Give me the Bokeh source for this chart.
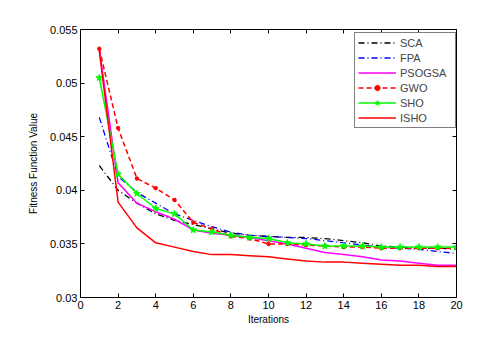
from bokeh.plotting import figure
from bokeh.models import Range1d, LinearAxis, FixedTicker, CustomJSTickFormatter, Legend
from bokeh.embed import file_html
from bokeh.resources import INLINE

iterations = list(range(1, 21))
sca = [0.0423, 0.0400, 0.0388, 0.0378, 0.0372, 0.0368, 0.0364, 0.0360, 0.0358, 0.0357,
       0.0356, 0.0356, 0.0355, 0.0353, 0.0351, 0.0348, 0.0347, 0.0346, 0.0346, 0.0345]
fpa = [0.0468, 0.0413, 0.0398, 0.0388, 0.0378, 0.0372, 0.0366, 0.0361, 0.0358, 0.0357,
       0.0356, 0.0355, 0.0353, 0.0351, 0.0349, 0.0347, 0.0346, 0.0345, 0.0343, 0.0341]
psogsa = [0.0532, 0.0407, 0.0388, 0.0380, 0.0373, 0.0363, 0.0360, 0.0358, 0.0356, 0.0353,
          0.0350, 0.0346, 0.0342, 0.0340, 0.0338, 0.0335, 0.0334, 0.0332, 0.0330, 0.0330]
gwo = [0.0532, 0.0458, 0.0411, 0.0402, 0.0391, 0.0370, 0.0364, 0.0357, 0.0355, 0.0350,
       0.0350, 0.0349, 0.0348, 0.0347, 0.0347, 0.0346, 0.0346, 0.0346, 0.0346, 0.0346]
sho = [0.0505, 0.0415, 0.0397, 0.0383, 0.0378, 0.0363, 0.0361, 0.0358, 0.0356, 0.0355,
       0.0351, 0.0350, 0.0348, 0.0348, 0.0348, 0.0347, 0.0347, 0.0347, 0.0347, 0.0347]
isho = [0.0530, 0.0389, 0.0365, 0.0351, 0.0347, 0.0343, 0.0340, 0.0340, 0.0339, 0.0338,
        0.0336, 0.0334, 0.0333, 0.0333, 0.0332, 0.0331, 0.0330, 0.0330, 0.0329, 0.0329]

x_ticks = list(range(0, 21, 2))
y_ticks = [0.03, 0.035, 0.04, 0.045, 0.05, 0.055]
y_tick_labels = ["0.03", "0.035", "0.04", "0.045", "0.05", "0.055"]

FONT = "Liberation Sans"

p = figure(output_backend="svg", toolbar_location=None,
           frame_width=376, frame_height=268,
           min_border_left=80, min_border_top=29, min_border_right=18, min_border_bottom=28,
           x_range=Range1d(0, 20), y_range=Range1d(0.03, 0.055),
           x_axis_label="Iterations", y_axis_label="Fitness Function Value")
p.grid.visible = False
p.outline_line_color = "black"
p.outline_line_width = 1
p.background_fill_color = "white"
p.border_fill_color = "white"

r_sca = p.line(iterations, sca, color="black", line_width=1.3, line_dash="6 3 1 3")
r_fpa = p.line(iterations, fpa, color="#0000ff", line_width=1.3, line_dash="6 3 1 3")
r_pso = p.line(iterations, psogsa, color="#ff00ff", line_width=1.5)
r_gwo = p.line(iterations, gwo, color="#ff0000", line_width=1.5, line_dash="5 3")
r_gwo_m = p.scatter(iterations, gwo, marker="circle", size=3.5, color="#ff0000")
r_sho = p.line(iterations, sho, color="#00ff00", line_width=1.5)
r_sho_m = p.scatter(iterations, sho, marker="star", size=7, color="#00ff00")
r_isho = p.line(iterations, isho, color="#ff0000", line_width=1.5)

legend = Legend(items=[("SCA", [r_sca]), ("FPA", [r_fpa]), ("PSOGSA", [r_pso]),
                       ("GWO", [r_gwo, r_gwo_m]), ("SHO", [r_sho, r_sho_m]), ("ISHO", [r_isho])],
                location=(274, 169))
legend.label_text_font = FONT
legend.label_text_font_size = "11px"
legend.label_height = 13
legend.glyph_height = 13
legend.glyph_width = 38
legend.spacing = 2
legend.padding = 3
legend.margin = 0
legend.label_standoff = 4
legend.label_width = 52
legend.border_line_color = "black"
legend.border_line_width = 1
legend.background_fill_alpha = 1
p.add_layout(legend)

for ax in [p.xaxis[0], p.yaxis[0]]:
    ax.major_tick_in = 4
    ax.major_tick_out = 0
    ax.minor_tick_line_color = None
    ax.axis_line_color = "black"
    ax.major_label_text_font = FONT
    ax.major_label_text_font_size = "11px"
    ax.major_label_text_color = "black"
    ax.axis_label_text_font = FONT
    ax.axis_label_text_font_size = "10px"
    ax.axis_label_text_font_style = "normal"
    ax.axis_label_text_color = "black"
    ax.major_label_standoff = 3

p.xaxis[0].ticker = FixedTicker(ticks=x_ticks)
p.yaxis[0].ticker = FixedTicker(ticks=y_ticks)
p.yaxis[0].major_label_overrides = {t: l for t, l in zip(y_ticks, y_tick_labels)}
p.xaxis[0].axis_label_standoff = 2
p.yaxis[0].axis_label_standoff = 8

blank = CustomJSTickFormatter(code="return ''")
top = LinearAxis(ticker=FixedTicker(ticks=x_ticks), formatter=blank,
                 major_tick_in=4, major_tick_out=0, minor_tick_line_color=None,
                 major_label_text_font_size="0px", major_label_standoff=0)
right = LinearAxis(ticker=FixedTicker(ticks=y_ticks), formatter=blank,
                   major_tick_in=4, major_tick_out=0, minor_tick_line_color=None,
                   major_label_text_font_size="0px", major_label_standoff=0)
p.add_layout(top, "above")
p.add_layout(right, "right")

open("out.html", "w").write(file_html(p, INLINE))
